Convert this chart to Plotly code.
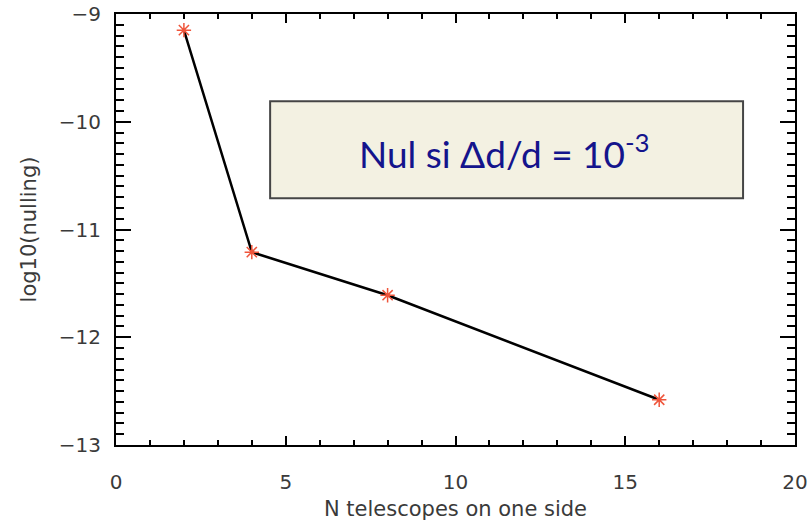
import plotly.graph_objects as go

# Nulling depth versus number of telescopes on one side
n_telescopes = [2, 4, 8, 16]
log_nulling = [-9.15, -11.21, -11.61, -12.58]

x_ticks = [0, 5, 10, 15, 20]
y_ticks = [-13, -12, -11, -10, -9]

axis_font = dict(family="DejaVu Sans", size=20, color="#3a3a3a")
title_font = dict(family="DejaVu Sans", size=21, color="#3a3a3a")

fig = go.Figure()

fig.add_trace(go.Scatter(
    x=n_telescopes, y=log_nulling,
    mode="lines",
    line=dict(color="black", width=2.5),
    showlegend=False,
))
fig.add_trace(go.Scatter(
    x=n_telescopes, y=log_nulling,
    mode="markers",
    marker=dict(symbol="asterisk-open", size=12,
                line=dict(color="#ff1010", width=1.5)),
    showlegend=False,
))

# Caption box
fig.add_shape(type="rect", xref="x", yref="y",
              x0=4.54, x1=18.47, y0=-10.71, y1=-9.81,
              fillcolor="#f3f1e2", line=dict(color="#454545", width=2),
              layer="above")
fig.add_annotation(x=11.43, y=-10.27, xref="x", yref="y",
                   text="Nul si \u0394d/d = 10<sup>-3</sup>",
                   showarrow=False,
                   font=dict(family="Lato", size=37, color="#14148c"))

fig.update_xaxes(
    range=[0, 20], tickvals=x_ticks, ticktext=[str(v) for v in x_ticks],
    ticks="inside", ticklen=9, tickwidth=1.5, tickcolor="black",
    minor=dict(dtick=1, ticks="inside", ticklen=5, tickwidth=1.5, tickcolor="black"),
    showline=True, linecolor="black", linewidth=2, mirror="allticks",
    showgrid=False, zeroline=False, automargin=False,
    tickfont=axis_font, ticklabelstandoff=18,
    title=dict(text="N telescopes on one side", font=title_font, standoff=10),
)
fig.update_yaxes(
    range=[-13, -9], tickvals=y_ticks,
    ticks="inside", ticklen=15, tickwidth=1.5, tickcolor="black",
    minor=dict(dtick=0.1, ticks="inside", ticklen=8, tickwidth=1.5, tickcolor="black"),
    showline=True, linecolor="black", linewidth=2, mirror="allticks",
    showgrid=False, zeroline=False, automargin=False,
    tickfont=axis_font, ticklabelstandoff=9,
    title=dict(text="log10(nulling)", font=title_font, standoff=16),
)

fig.update_layout(
    width=811, height=521,
    margin=dict(l=116, r=16, t=14, b=76),
    plot_bgcolor="white", paper_bgcolor="white",
)

fig.write_html("out.html")
